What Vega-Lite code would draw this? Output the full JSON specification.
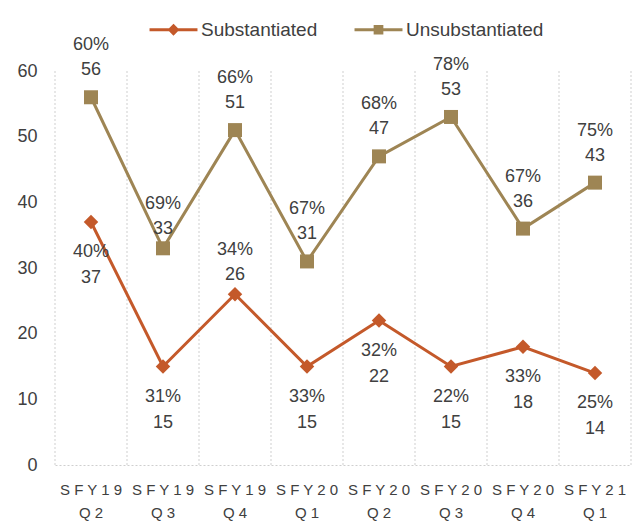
{
  "$schema": "https://vega.github.io/schema/vega-lite/v6.json",
  "width": 576,
  "height": 394,
  "autosize": {"type": "none"},
  "padding": {"left": 55, "top": 71, "right": 2, "bottom": 57},
  "background": "white",
  "config": {"view": {"stroke": null}, "font": "Liberation Sans"},
  "data": {
    "values": [
      {"period": "SFY19 Q2", "series": "Substantiated", "value": 37, "pct": "40%"},
      {"period": "SFY19 Q3", "series": "Substantiated", "value": 15, "pct": "31%"},
      {"period": "SFY19 Q4", "series": "Substantiated", "value": 26, "pct": "34%"},
      {"period": "SFY20 Q1", "series": "Substantiated", "value": 15, "pct": "33%"},
      {"period": "SFY20 Q2", "series": "Substantiated", "value": 22, "pct": "32%"},
      {"period": "SFY20 Q3", "series": "Substantiated", "value": 15, "pct": "22%"},
      {"period": "SFY20 Q4", "series": "Substantiated", "value": 18, "pct": "33%"},
      {"period": "SFY21 Q1", "series": "Substantiated", "value": 14, "pct": "25%"},
      {"period": "SFY19 Q2", "series": "Unsubstantiated", "value": 56, "pct": "60%"},
      {"period": "SFY19 Q3", "series": "Unsubstantiated", "value": 33, "pct": "69%"},
      {"period": "SFY19 Q4", "series": "Unsubstantiated", "value": 51, "pct": "66%"},
      {"period": "SFY20 Q1", "series": "Unsubstantiated", "value": 31, "pct": "67%"},
      {"period": "SFY20 Q2", "series": "Unsubstantiated", "value": 47, "pct": "68%"},
      {"period": "SFY20 Q3", "series": "Unsubstantiated", "value": 53, "pct": "78%"},
      {"period": "SFY20 Q4", "series": "Unsubstantiated", "value": 36, "pct": "67%"},
      {"period": "SFY21 Q1", "series": "Unsubstantiated", "value": 43, "pct": "75%"}
    ]
  },
  "encoding": {
    "x": {
      "field": "period",
      "type": "nominal",
      "sort": null,
      "scale": {"paddingInner": 0, "paddingOuter": 0},
      "axis": {
        "title": null,
        "labelAngle": 0,
        "domainColor": "#cfcfcf",
        "domainWidth": 1,
        "domainDash": [2, 2],
        "ticks": false,
        "grid": false,
        "labelFontSize": 15,
        "labelColor": "#404040",
        "labelPadding": 17,
        "labelLineHeight": 23,
        "labelBaseline": "top",
        "labelExpr": "[join(split(split(datum.label, ' ')[0], ''), ' '), join(split(split(datum.label, ' ')[1], ''), ' ')]"
      }
    }
  },
  "layer": [
    {
      "transform": [{"filter": "datum.series === 'Substantiated'"}],
      "mark": {"type": "rule", "color": "#cfcfcf", "strokeDash": [2, 2], "strokeWidth": 1},
      "encoding": {"x": {"field": "period", "type": "nominal", "sort": null, "bandPosition": 0}}
    },
    {
      "transform": [{"filter": "datum.series === 'Substantiated' && datum.period === 'SFY21 Q1'"}],
      "mark": {"type": "rule", "color": "#cfcfcf", "strokeDash": [2, 2], "strokeWidth": 1},
      "encoding": {"x": {"field": "period", "type": "nominal", "sort": null, "bandPosition": 1}}
    },
    {
      "mark": {"type": "line", "strokeWidth": 3},
      "encoding": {
        "y": {
          "field": "value",
          "type": "quantitative",
          "scale": {"domain": [0, 60]},
          "axis": {
            "title": null,
            "domain": false,
            "ticks": false,
            "grid": false,
            "values": [0, 10, 20, 30, 40, 50, 60],
            "labelFontSize": 18,
            "labelColor": "#404040",
            "labelPadding": 18
          }
        },
        "color": {
          "field": "series",
          "type": "nominal",
          "scale": {"domain": ["Substantiated", "Unsubstantiated"], "range": ["#C4592A", "#9E8554"]},
          "legend": {
            "title": null,
            "orient": "none",
            "legendX": 93,
            "legendY": -67,
            "direction": "horizontal",
            "symbolSize": 2300,
            "symbolStrokeWidth": 3,
            "labelFontSize": 19,
            "labelColor": "#404040",
            "labelOffset": 2,
            "columnPadding": 30
          }
        }
      }
    },
    {
      "transform": [{"filter": "false"}],
      "mark": {"type": "point", "filled": false, "strokeWidth": 3, "opacity": 1},
      "encoding": {
        "y": {"field": "value", "type": "quantitative"},
        "color": {"field": "series", "type": "nominal"},
        "shape": {
          "field": "series",
          "type": "nominal",
          "scale": {
            "domain": ["Substantiated", "Unsubstantiated"],
            "range": ["M-1,0H1M0,-0.16L0.16,0L0,0.16L-0.16,0Z", "M-1,0H1M-0.14,-0.14H0.14V0.14H-0.14Z"]
          }
        }
      }
    },
    {
      "transform": [{"filter": "datum.series === 'Substantiated'"}],
      "mark": {"type": "point", "filled": true, "opacity": 1, "shape": "diamond", "size": 210},
      "encoding": {
        "y": {"field": "value", "type": "quantitative"},
        "color": {"field": "series", "type": "nominal"}
      }
    },
    {
      "transform": [{"filter": "datum.series === 'Unsubstantiated'"}],
      "mark": {"type": "point", "filled": true, "opacity": 1, "shape": "square", "size": 196},
      "encoding": {
        "y": {"field": "value", "type": "quantitative"},
        "color": {"field": "series", "type": "nominal"}
      }
    },
    {
      "transform": [{"filter": "datum.series === 'Unsubstantiated' && datum.period !== 'SFY19 Q3'"}],
      "mark": {"type": "text", "fontSize": 18, "color": "#404040", "baseline": "middle", "dy": -52},
      "encoding": {"y": {"field": "value", "type": "quantitative"}, "text": {"field": "pct", "type": "nominal"}}
    },
    {
      "transform": [{"filter": "datum.series === 'Unsubstantiated' && datum.period !== 'SFY19 Q3'"}],
      "mark": {"type": "text", "fontSize": 18, "color": "#404040", "baseline": "middle", "dy": -27},
      "encoding": {"y": {"field": "value", "type": "quantitative"}, "text": {"field": "value", "type": "quantitative"}}
    },
    {
      "transform": [{"filter": "(datum.series === 'Unsubstantiated' && datum.period === 'SFY19 Q3') || (datum.series === 'Substantiated' && datum.period === 'SFY19 Q4')"}],
      "mark": {"type": "text", "fontSize": 18, "color": "#404040", "baseline": "middle", "dy": -44},
      "encoding": {"y": {"field": "value", "type": "quantitative"}, "text": {"field": "pct", "type": "nominal"}}
    },
    {
      "transform": [{"filter": "(datum.series === 'Unsubstantiated' && datum.period === 'SFY19 Q3') || (datum.series === 'Substantiated' && datum.period === 'SFY19 Q4')"}],
      "mark": {"type": "text", "fontSize": 18, "color": "#404040", "baseline": "middle", "dy": -19},
      "encoding": {"y": {"field": "value", "type": "quantitative"}, "text": {"field": "value", "type": "quantitative"}}
    },
    {
      "transform": [{"filter": "datum.series === 'Substantiated' && datum.period !== 'SFY19 Q4'"}],
      "mark": {"type": "text", "fontSize": 18, "color": "#404040", "baseline": "middle", "dy": 30},
      "encoding": {"y": {"field": "value", "type": "quantitative"}, "text": {"field": "pct", "type": "nominal"}}
    },
    {
      "transform": [{"filter": "datum.series === 'Substantiated' && datum.period !== 'SFY19 Q4'"}],
      "mark": {"type": "text", "fontSize": 18, "color": "#404040", "baseline": "middle", "dy": 56},
      "encoding": {"y": {"field": "value", "type": "quantitative"}, "text": {"field": "value", "type": "quantitative"}}
    }
  ]
}
